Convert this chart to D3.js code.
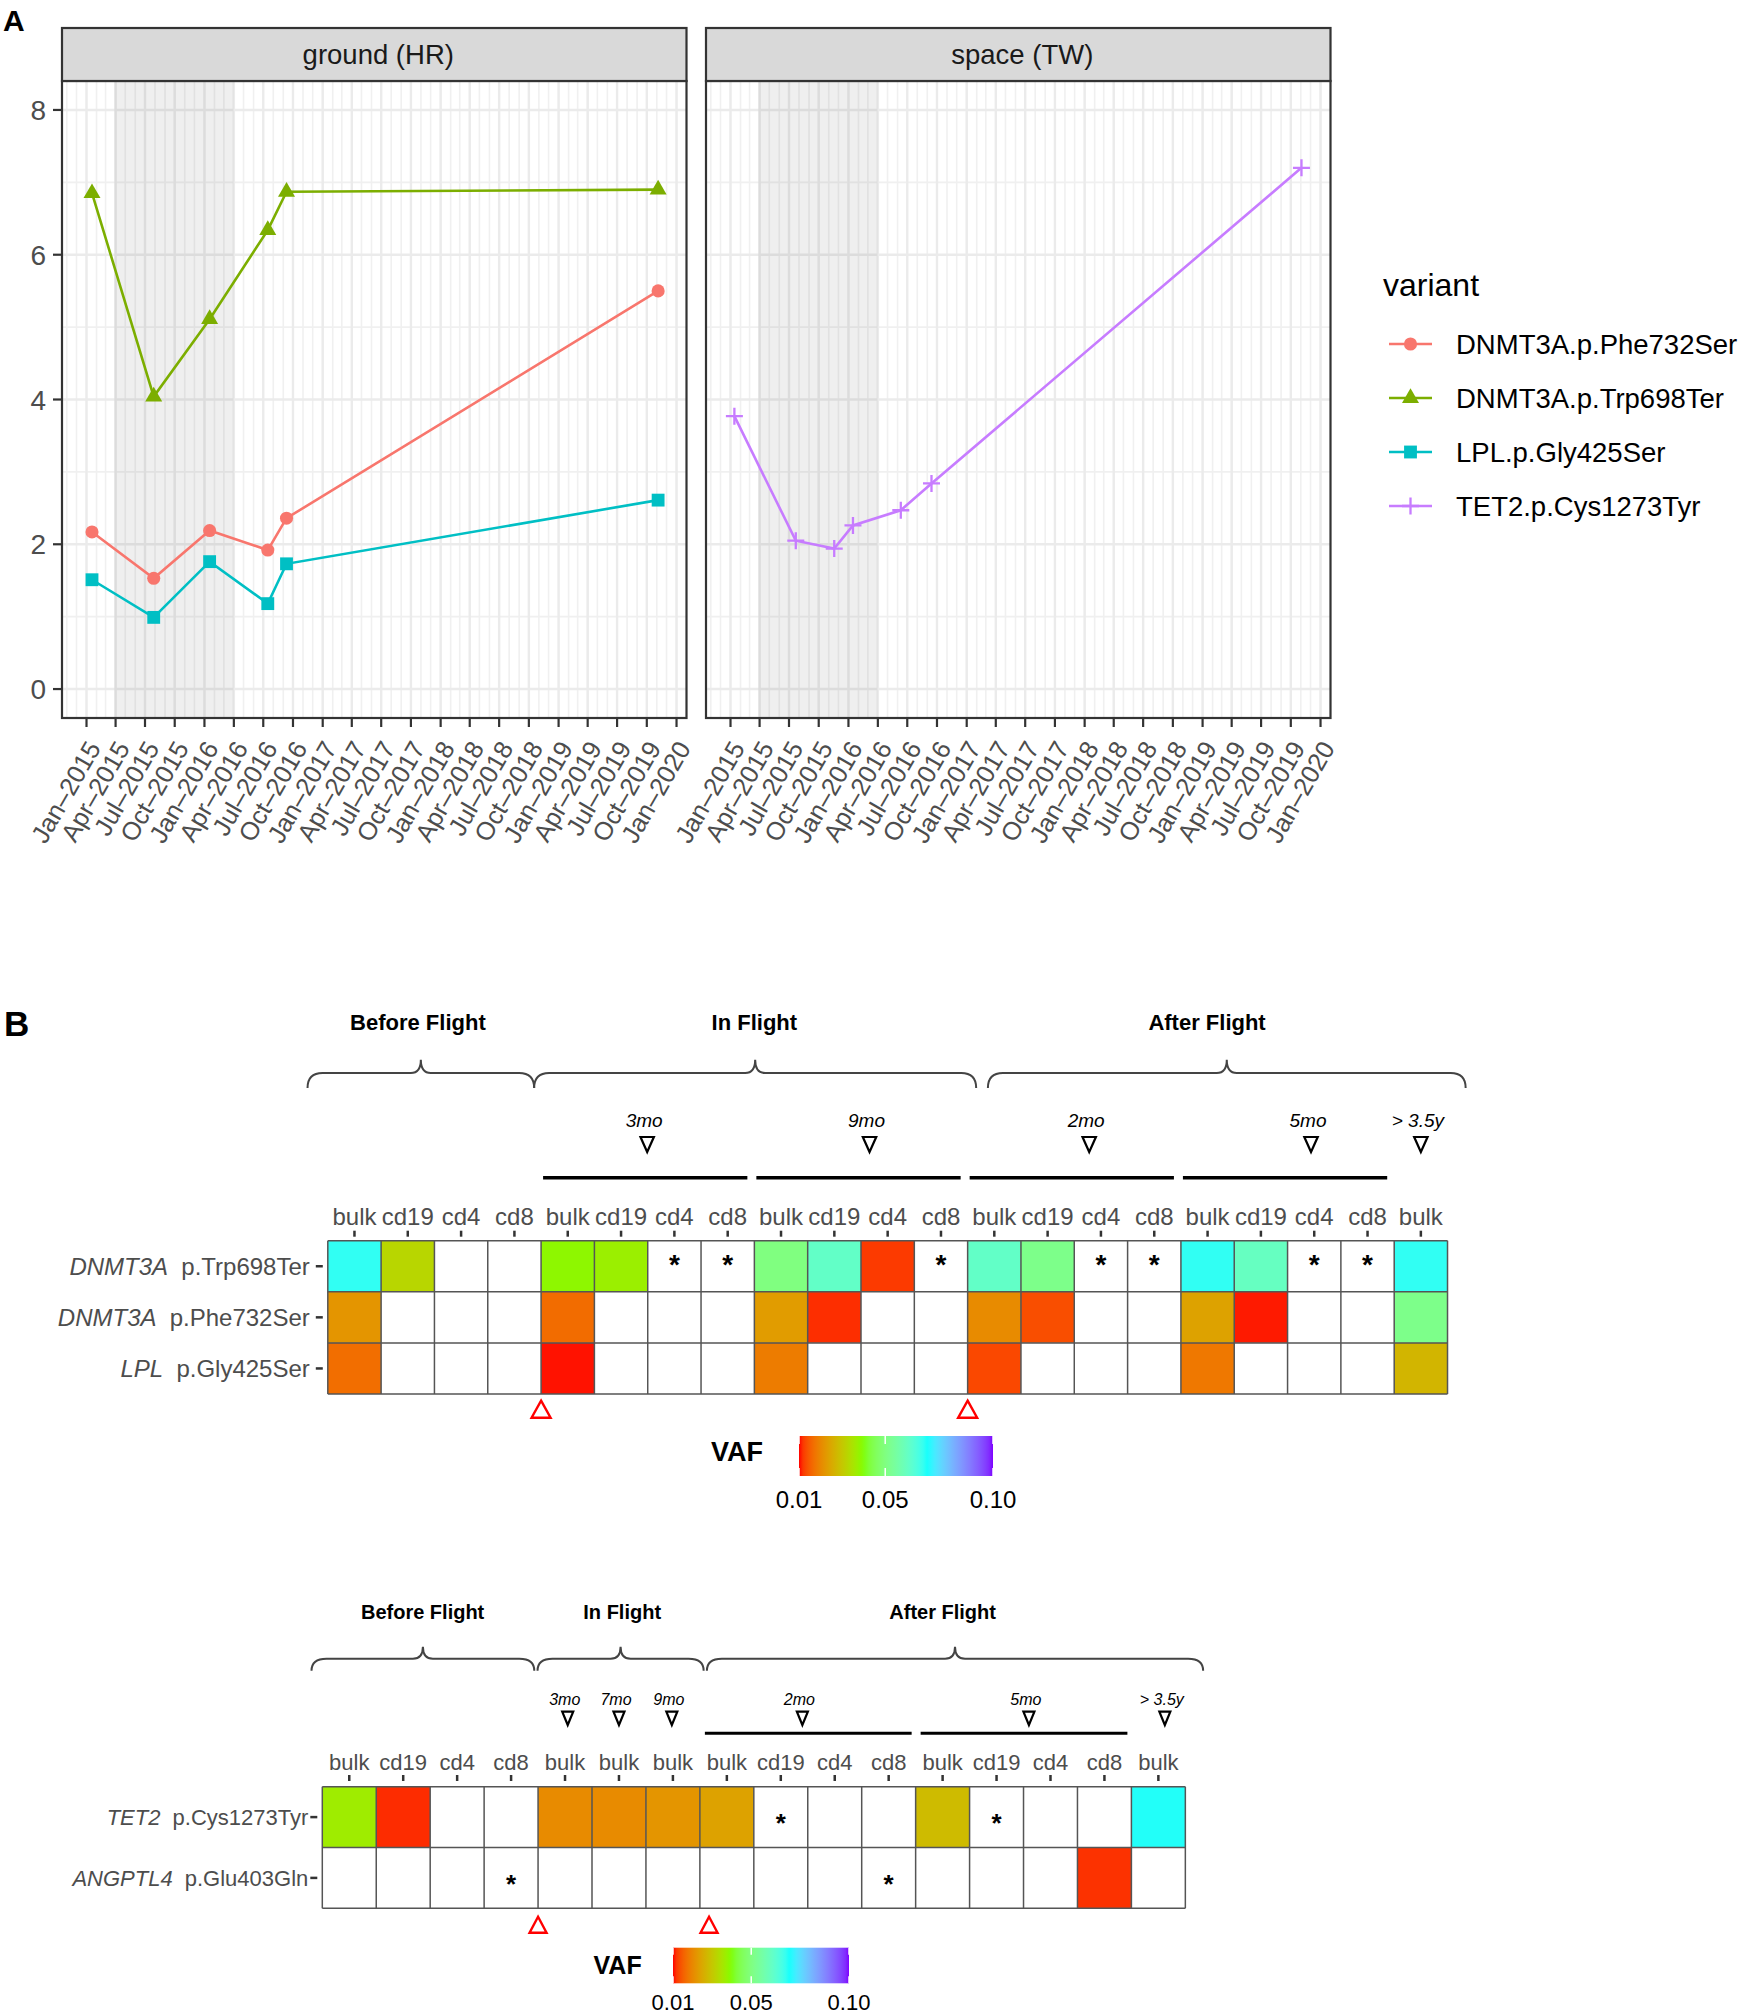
<!DOCTYPE html>
<html><head><meta charset="utf-8">
<script src="https://cdn.jsdelivr.net/npm/d3@7"></script>
<style>
body{margin:0;background:#fff}
svg{display:block}
text{font-family:"Liberation Sans",Arial,Helvetica,sans-serif}
</style>
</head><body>
<svg id="chart" width="1744" height="2016"></svg>
<script>
// ---------------- DATA: panel A ----------------
const facetNames = ["ground (HR)", "space (TW)"];
const variantNames = ["DNMT3A.p.Phe732Ser", "DNMT3A.p.Trp698Ter", "LPL.p.Gly425Ser", "TET2.p.Cys1273Tyr"];
const groundDates = ["2015-01-18", "2015-07-28", "2016-01-17", "2016-07-15", "2016-09-11", "2019-11-05"];
const phe732Ser = [2.17, 1.53, 2.19, 1.92, 2.36, 5.50];
const trp698Ter = [6.85, 4.04, 5.11, 6.34, 6.87, 6.90];
const gly425Ser = [1.51, 0.99, 1.76, 1.18, 1.73, 2.61];
const spaceDates = ["2015-01-13", "2015-07-22", "2015-11-18", "2016-01-15", "2016-06-11", "2016-09-14", "2019-11-03"];
const cys1273Tyr = [3.77, 2.05, 1.94, 2.26, 2.47, 2.84, 7.20];
const flightWindow = ["2015-03-28", "2016-03-31"];
const yTicks = [0, 2, 4, 6, 8];
const yMinor = [1, 3, 5, 7];
const xTicks = ["2015-01-01","2015-04-01","2015-07-01","2015-10-01","2016-01-01","2016-04-01","2016-07-01","2016-10-01",
  "2017-01-01","2017-04-01","2017-07-01","2017-10-01","2018-01-01","2018-04-01","2018-07-01","2018-10-01",
  "2019-01-01","2019-04-01","2019-07-01","2019-10-01","2020-01-01"];

// ---------------- DATA: panel B, heatmap 1 ----------------
const hm1Columns = ["bulk","cd19","cd4","cd8","bulk","cd19","cd4","cd8","bulk","cd19","cd4","cd8","bulk","cd19","cd4","cd8","bulk","cd19","cd4","cd8","bulk"];
const hm1Genes = ["DNMT3A", "DNMT3A", "LPL"];
const hm1Changes = ["p.Trp698Ter", "p.Phe732Ser", "p.Gly425Ser"];
const hm1Trp698Ter = [0.068, 0.0325, null, null, 0.0385, 0.037, "*", "*", 0.050, 0.061, 0.012, "*", 0.061, 0.0515, "*", "*", 0.068, 0.060, "*", "*", 0.068];
const hm1Phe732Ser = [0.022, null, null, null, 0.0166, null, null, null, 0.023, 0.0113, null, null, 0.0205, 0.0135, null, null, 0.024, 0.0105, null, null, 0.0515];
const hm1Gly425Ser = [0.0168, null, null, null, 0.0103, null, null, null, 0.0185, null, null, null, 0.013, null, null, null, 0.018, null, null, null, 0.027];
const hm1Phases = ["Before Flight", "In Flight", "After Flight"];
const hm1PhaseSpans = [[-0.38, 3.87], [3.87, 12.16], [12.38, 21.34]];
const hm1PhaseLabelAt = [1.69, 8.0, 16.49];
const hm1Timepoints = ["3mo", "9mo", "2mo", "5mo", "> 3.5y"];
const hm1TimepointAt = [5.99, 10.16, 14.28, 18.44, 20.5];
const hm1SampleSets = [[4, 8], [8, 12], [12, 16], [16, 20]];
const hm1Transitions = [4, 12];

// ---------------- DATA: panel B, heatmap 2 ----------------
const hm2Columns = ["bulk","cd19","cd4","cd8","bulk","bulk","bulk","bulk","cd19","cd4","cd8","bulk","cd19","cd4","cd8","bulk"];
const hm2Genes = ["TET2", "ANGPTL4"];
const hm2Changes = ["p.Cys1273Tyr", "p.Glu403Gln"];
const hm2Cys1273Tyr = [0.0365, 0.0112, null, null, 0.0205, 0.0205, 0.022, 0.024, "*", null, null, 0.028, "*", null, null, 0.069];
const hm2Glu403Gln = [null, null, null, "*", null, null, null, null, null, null, "*", null, null, null, 0.0115, null];
const hm2Phases = ["Before Flight", "In Flight", "After Flight"];
const hm2PhaseSpans = [[-0.2, 3.93], [3.99, 7.07], [7.13, 16.33]];
const hm2PhaseLabelAt = [1.86, 5.56, 11.5];
const hm2Timepoints = ["3mo", "7mo", "9mo", "2mo", "5mo", "> 3.5y"];
const hm2TimepointAt = [4.55, 5.5, 6.48, 8.9, 13.1, 15.62];
const hm2SampleSets = [[7, 11], [11, 15]];
const hm2Transitions = [4, 7.17];

// VAF colour scale
const vafBreaks = [0.01, 0.05, 0.10];
const vafStops = [0.01, 0.04, 0.05, 0.07, 0.10];
const vafPalette = ["#ff0000", "#7fff00", "#80ff80", "#00ffff", "#7f00ff"];

// ---------------- DRAW ----------------
const svg = d3.select("#chart");
const vafColor = d3.scaleLinear().domain(vafStops).range(vafPalette).interpolate(d3.interpolateLab).clamp(true);
const parse = d3.timeParse("%Y-%m-%d");
const fmt = d3.timeFormat("%b\u2013%Y");
const variantColors = ["#F8766D", "#7CAE00", "#00BFC4", "#C77CFF"];

// panel letters
svg.append("text").attr("x", 3).attr("y", 31).attr("font-size", 30).attr("font-weight", "bold").text("A");
svg.append("text").attr("x", 4).attr("y", 1036).attr("font-size", 35).attr("font-weight", "bold").text("B");

// ---- Panel A ----
const series = [
  {facet: 0, v: 0, dates: groundDates, values: phe732Ser},
  {facet: 0, v: 1, dates: groundDates, values: trp698Ter},
  {facet: 0, v: 2, dates: groundDates, values: gly425Ser},
  {facet: 1, v: 3, dates: spaceDates, values: cys1273Tyr}
];
const allDates = groundDates.concat(spaceDates).map(parse);
const ext = d3.extent(allDates);
const span = ext[1] - ext[0];
const xDomain = [new Date(+ext[0] - 0.05 * span), new Date(+ext[1] + 0.05 * span)];
const plotTop = 81, plotBottom = 718, stripTop = 28;
const panelX = [[62, 686.5], [706, 1330.5]];
const y = d3.scaleLinear().domain([-0.4, 8.4]).range([plotBottom, plotTop]);

function symbolPath(i) {
  if (i === 0) return d3.symbol(d3.symbolCircle, 135)();
  if (i === 1) return d3.symbol(d3.symbolTriangle, 125)();
  if (i === 2) return d3.symbol(d3.symbolSquare, 165)();
  return "M-8.5,0H8.5M0,-8.5V8.5";
}
function drawSymbol(g, i, cx, cy) {
  const p = g.append("path").attr("d", symbolPath(i)).attr("transform", `translate(${cx},${cy})`);
  if (i === 3) p.attr("fill", "none").attr("stroke", variantColors[i]).attr("stroke-width", 2.3);
  else p.attr("fill", variantColors[i]);
}

facetNames.forEach((name, fi) => {
  const [x0, x1] = panelX[fi];
  const x = d3.scaleTime().domain(xDomain).range([x0, x1]);
  const g = svg.append("g");
  g.append("rect").attr("x", x0).attr("y", plotTop).attr("width", x1 - x0).attr("height", plotBottom - plotTop).attr("fill", "#fff");
  // minor grid
  d3.timeMonth.range(xDomain[0], xDomain[1]).forEach(d => {
    g.append("line").attr("x1", x(d)).attr("x2", x(d)).attr("y1", plotTop).attr("y2", plotBottom)
      .attr("stroke", "#f0f0f0").attr("stroke-width", 1.6);
  });
  yMinor.forEach(v => {
    g.append("line").attr("x1", x0).attr("x2", x1).attr("y1", y(v)).attr("y2", y(v)).attr("stroke", "#f0f0f0").attr("stroke-width", 1.6);
  });
  // major grid
  xTicks.map(parse).forEach(d => {
    g.append("line").attr("x1", x(d)).attr("x2", x(d)).attr("y1", plotTop).attr("y2", plotBottom)
      .attr("stroke", "#ebebeb").attr("stroke-width", 2.4);
  });
  yTicks.forEach(v => {
    g.append("line").attr("x1", x0).attr("x2", x1).attr("y1", y(v)).attr("y2", y(v)).attr("stroke", "#ebebeb").attr("stroke-width", 2.4);
  });
  // flight shading
  const fw = flightWindow.map(parse);
  g.append("rect").attr("x", x(fw[0])).attr("y", plotTop).attr("width", x(fw[1]) - x(fw[0]))
    .attr("height", plotBottom - plotTop).attr("fill", "#000").attr("opacity", 0.062);
  // lines
  const fs = series.filter(s => s.facet === fi);
  fs.forEach(s => {
    const pts = s.dates.map((d, k) => [x(parse(d)), y(s.values[k])]);
    g.append("path").attr("d", d3.line()(pts)).attr("fill", "none").attr("stroke", variantColors[s.v]).attr("stroke-width", 2.6);
  });
  fs.forEach(s => {
    s.dates.forEach((d, k) => drawSymbol(g, s.v, x(parse(d)), y(s.values[k])));
  });
  // border
  g.append("rect").attr("x", x0).attr("y", plotTop).attr("width", x1 - x0).attr("height", plotBottom - plotTop)
    .attr("fill", "none").attr("stroke", "#333").attr("stroke-width", 2.2);
  // strip
  g.append("rect").attr("x", x0).attr("y", stripTop).attr("width", x1 - x0).attr("height", plotTop - stripTop)
    .attr("fill", "#d9d9d9").attr("stroke", "#333").attr("stroke-width", 2.2);
  g.append("text").attr("x", (x0 + x1) / 2 + 4).attr("y", 64).attr("text-anchor", "middle").attr("font-size", 27.5)
    .attr("fill", "#1a1a1a").text(name);
  // x ticks
  xTicks.map(parse).forEach(d => {
    g.append("line").attr("x1", x(d)).attr("x2", x(d)).attr("y1", plotBottom).attr("y2", plotBottom + 9)
      .attr("stroke", "#333").attr("stroke-width", 2.2);
    g.append("text").attr("transform", `translate(${x(d) + 15},${plotBottom + 30}) rotate(-60)`)
      .attr("text-anchor", "end").attr("font-size", 25.5).attr("fill", "#4d4d4d").text(fmt(d));
  });
  if (fi === 0) {
    yTicks.forEach(v => {
      g.append("line").attr("x1", x0 - 9).attr("x2", x0).attr("y1", y(v)).attr("y2", y(v)).attr("stroke", "#333").attr("stroke-width", 2.2);
      g.append("text").attr("x", x0 - 16).attr("y", y(v) + 10).attr("text-anchor", "end").attr("font-size", 28)
        .attr("fill", "#4d4d4d").text(v);
    });
  }
});

// legend
const lg = svg.append("g");
lg.append("text").attr("x", 1383).attr("y", 296).attr("font-size", 32).attr("fill", "#000").text("variant");
variantNames.forEach((nm, i) => {
  const cy = 344 + i * 54;
  lg.append("line").attr("x1", 1389).attr("x2", 1432).attr("y1", cy).attr("y2", cy).attr("stroke", variantColors[i]).attr("stroke-width", 2.6);
  drawSymbol(lg, i, 1410.5, cy);
  lg.append("text").attr("x", 1456).attr("y", cy + 10).attr("font-size", 27.5).attr("fill", "#000").text(nm);
});

// ---- Panel B ----
let gradId = 0;
function heatmap(cfg) {
  const g = svg.append("g");
  const n = cfg.columns.length;
  const T = cfg.top;
  const x = d3.scaleLinear().domain([0, n]).range([cfg.left, cfg.left + n * cfg.colW]);
  const yb = d3.scaleBand().domain(d3.range(cfg.rows.length)).range([T, T + cfg.rows.length * cfg.rowH]);
  const B = T + cfg.rows.length * cfg.rowH;
  // cells
  cfg.rows.forEach((vals, r) => {
    vals.forEach((v, c) => {
      g.append("rect").attr("x", x(c)).attr("y", yb(r)).attr("width", x(c + 1) - x(c)).attr("height", yb.bandwidth())
        .attr("fill", typeof v === "number" ? vafColor(v) : "#fff");
    });
  });
  // grid lines
  d3.range(n + 1).forEach(c => {
    g.append("line").attr("x1", x(c)).attr("x2", x(c)).attr("y1", T).attr("y2", B).attr("stroke", "#555").attr("stroke-width", 1.5);
  });
  d3.range(cfg.rows.length + 1).forEach(r => {
    const yy = T + r * cfg.rowH;
    g.append("line").attr("x1", x(0)).attr("x2", x(n)).attr("y1", yy).attr("y2", yy).attr("stroke", "#555").attr("stroke-width", 1.5);
  });
  // asterisks
  cfg.rows.forEach((vals, r) => {
    vals.forEach((v, c) => {
      if (v === "*") g.append("text").attr("x", (x(c) + x(c + 1)) / 2).attr("y", yb(r) + yb.bandwidth() / 2 + cfg.starDy)
        .attr("text-anchor", "middle").attr("font-size", cfg.starSize).attr("font-weight", "bold").attr("fill", "#000").text("*");
    });
  });
  // column labels & ticks
  cfg.columns.forEach((lab, c) => {
    const cx = (x(c) + x(c + 1)) / 2;
    g.append("line").attr("x1", cx).attr("x2", cx).attr("y1", T + cfg.tickTop).attr("y2", T + cfg.tickTop + 6)
      .attr("stroke", "#333").attr("stroke-width", 2.5);
    g.append("text").attr("x", cx).attr("y", T + cfg.colLabelY).attr("text-anchor", "middle").attr("font-size", cfg.fs)
      .attr("fill", "#4d4d4d").text(lab);
  });
  // row labels & ticks
  cfg.genes.forEach((gene, r) => {
    const cy = yb(r) + yb.bandwidth() / 2;
    g.append("line").attr("x1", x(0) - 12).attr("x2", x(0) - 5).attr("y1", cy).attr("y2", cy).attr("stroke", "#333").attr("stroke-width", 2.5);
    const t = g.append("text").attr("x", x(0) - cfg.rowLabelGap).attr("y", cy + cfg.fs * 0.36).attr("text-anchor", "end")
      .attr("font-size", cfg.fs).attr("fill", "#4d4d4d");
    t.append("tspan").attr("font-style", "italic").text(gene);
    t.append("tspan").attr("dx", cfg.fs * 0.55).text(cfg.changes[r]);
  });
  // phase braces
  cfg.phases.forEach((ph, i) => {
    const [a, b] = cfg.phaseSpans[i];
    const x0 = x(a), x1 = x(b), xm = (x0 + x1) / 2;
    const yl = T + cfg.braceLine, yp = T + cfg.bracePeak, ye = T + cfg.braceEnd;
    const r = 15;
    const d = `M${x0},${ye} Q${x0},${yl} ${x0 + r},${yl} L${xm - 10},${yl} Q${xm},${yl} ${xm},${yp} Q${xm},${yl} ${xm + 10},${yl} L${x1 - r},${yl} Q${x1},${yl} ${x1},${ye}`;
    g.append("path").attr("d", d).attr("fill", "none").attr("stroke", "#444").attr("stroke-width", 2);
    g.append("text").attr("x", x(cfg.phaseLabelAt[i])).attr("y", T + cfg.phaseY).attr("text-anchor", "middle")
      .attr("font-size", cfg.phaseSize).attr("font-weight", "bold").attr("fill", "#000").text(ph);
  });
  // timepoints
  cfg.timepoints.forEach((tp, i) => {
    const cx = x(cfg.timepointAt[i]);
    g.append("text").attr("x", cx - 3).attr("y", T + cfg.tpTextY).attr("text-anchor", "middle").attr("font-size", cfg.tpSize)
      .attr("font-style", "italic").attr("fill", "#000").text(tp);
    const w = cfg.triW, h = cfg.triH, ty = T + cfg.triTop;
    g.append("path").attr("d", `M${cx - w / 2},${ty} L${cx + w / 2},${ty} L${cx},${ty + h} Z`)
      .attr("fill", "#fff").attr("stroke", "#000").attr("stroke-width", 2.2).attr("stroke-linejoin", "miter");
  });
  cfg.sampleSets.forEach(([a, b]) => {
    g.append("line").attr("x1", x(a) + cfg.barInset[0]).attr("x2", x(b) - cfg.barInset[1])
      .attr("y1", T + cfg.barY).attr("y2", T + cfg.barY).attr("stroke", "#000").attr("stroke-width", cfg.barW);
  });
  // red transition markers
  cfg.transitions.forEach(c => {
    const cx = x(c), w = cfg.redW, h = cfg.redH, ty = B + cfg.redTop;
    g.append("path").attr("d", `M${cx},${ty} L${cx + w / 2},${ty + h} L${cx - w / 2},${ty + h} Z`)
      .attr("fill", "none").attr("stroke", "#ff0000").attr("stroke-width", 2.4);
  });
  // colour bar legend
  const L = cfg.legend;
  const lx = d3.scaleLinear().domain([vafBreaks[0], vafBreaks[vafBreaks.length - 1]]).range([L.x0, L.x1]);
  const id = "vafgrad" + (gradId++);
  const grad = svg.append("defs").append("linearGradient").attr("id", id).attr("x1", "0%").attr("x2", "100%");
  d3.range(0, 1.0001, 0.02).forEach(f => {
    const v = vafBreaks[0] + f * (vafBreaks[vafBreaks.length - 1] - vafBreaks[0]);
    grad.append("stop").attr("offset", (f * 100) + "%").attr("stop-color", vafColor(v));
  });
  g.append("rect").attr("x", L.x0).attr("y", L.y0).attr("width", L.x1 - L.x0).attr("height", L.y1 - L.y0).attr("fill", `url(#${id})`);
  vafBreaks.forEach(v => {
    const tx = lx(v), hh = (L.y1 - L.y0) / 5;
    g.append("line").attr("x1", tx).attr("x2", tx).attr("y1", L.y0).attr("y2", L.y0 + hh).attr("stroke", "#fff").attr("stroke-width", 1.5);
    g.append("line").attr("x1", tx).attr("x2", tx).attr("y1", L.y1 - hh).attr("y2", L.y1).attr("stroke", "#fff").attr("stroke-width", 1.5);
    g.append("text").attr("x", tx).attr("y", L.labelY).attr("text-anchor", "middle").attr("font-size", L.labelSize)
      .attr("fill", "#000").text(d3.format(".2f")(v));
  });
  g.append("text").attr("x", L.titleX).attr("y", L.titleY).attr("text-anchor", "end").attr("font-size", L.titleSize)
    .attr("font-weight", "bold").attr("fill", "#000").text("VAF");
}

heatmap({
  columns: hm1Columns, rows: [hm1Trp698Ter, hm1Phe732Ser, hm1Gly425Ser], genes: hm1Genes, changes: hm1Changes,
  phases: hm1Phases, phaseSpans: hm1PhaseSpans, phaseLabelAt: hm1PhaseLabelAt,
  timepoints: hm1Timepoints, timepointAt: hm1TimepointAt, sampleSets: hm1SampleSets, transitions: hm1Transitions,
  left: 327.8, top: 1240.7, colW: 53.32, rowH: 51.1, fs: 24, rowLabelGap: 18,
  starDy: 7.5, starSize: 28, tickTop: -10, colLabelY: -15.7,
  braceLine: -167.7, bracePeak: -181, braceEnd: -152.7, phaseY: -210.7, phaseSize: 22,
  tpTextY: -113.7, tpSize: 19, triTop: -103.7, triW: 13.4, triH: 15,
  barY: -63, barW: 3.6, barInset: [2, 7], redTop: 6.7, redW: 19, redH: 17,
  legend: {x0: 799, x1: 993, y0: 1436, y1: 1476, labelY: 1508, labelSize: 24, titleX: 763, titleY: 1461, titleSize: 27}
});

heatmap({
  columns: hm2Columns, rows: [hm2Cys1273Tyr, hm2Glu403Gln], genes: hm2Genes, changes: hm2Changes,
  phases: hm2Phases, phaseSpans: hm2PhaseSpans, phaseLabelAt: hm2PhaseLabelAt,
  timepoints: hm2Timepoints, timepointAt: hm2TimepointAt, sampleSets: hm2SampleSets, transitions: hm2Transitions,
  left: 322.3, top: 1786.7, colW: 53.94, rowH: 60.8, fs: 22, rowLabelGap: 14,
  starDy: 15, starSize: 26, tickTop: -11.7, colLabelY: -16.7,
  braceLine: -128, bracePeak: -140, braceEnd: -116, phaseY: -167.7, phaseSize: 20,
  tpTextY: -81.7, tpSize: 16, triTop: -75, triW: 11, triH: 13.3,
  barY: -53.4, barW: 3, barInset: [5, 4], redTop: 8.4, redW: 17, redH: 16,
  legend: {x0: 673, x1: 849, y0: 1947.7, y1: 1983.3, labelY: 2010, labelSize: 22, titleX: 641.7, titleY: 1974, titleSize: 25}
});
</script>
</body></html>
